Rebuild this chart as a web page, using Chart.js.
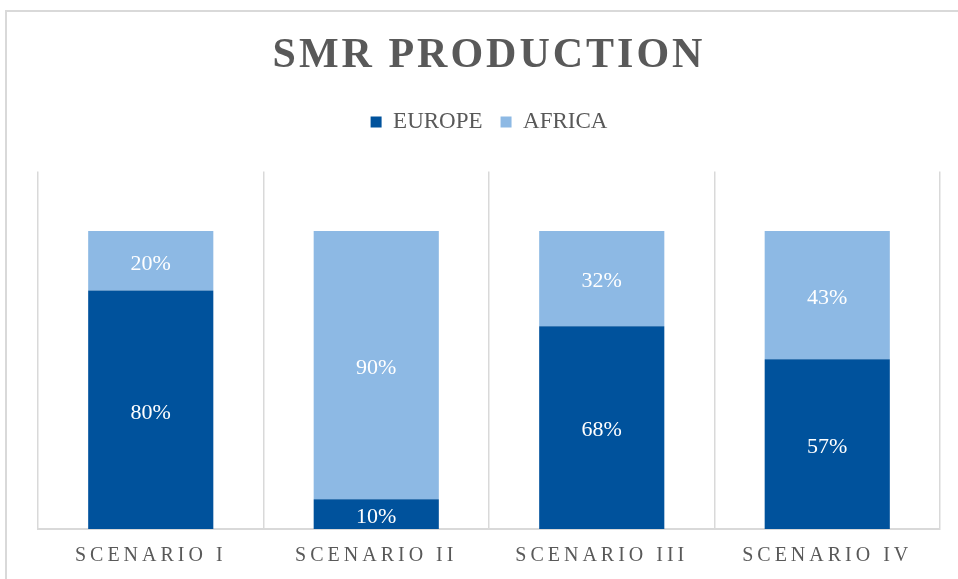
<!DOCTYPE html>
<html>
<head>
<meta charset="utf-8">
<title>SMR Production</title>
<script src="https://cdn.jsdelivr.net/npm/chart.js@4.4.1/dist/chart.umd.min.js"></script>
<style>
    body { margin: 0; background: #fff; }
    #wrap { position: relative; width: 958px; height: 579px; overflow: hidden; }
    #frame {
        position: absolute; left: 5px; top: 10px; width: 1000px; height: 1000px;
        border-left: 2px solid #d9d9d9; border-top: 2px solid #d9d9d9;
        pointer-events: none;
    }
    canvas { position: absolute; left: 0; top: 0; }
</style>
</head>
<body>
<div id="wrap">
    <div id="frame"></div>
    <canvas id="smrChart" width="958" height="579"></canvas>
</div>
<script>
const scenarios = ["SCENARIO I", "SCENARIO II", "SCENARIO III", "SCENARIO IV"];
const europe = [80, 10, 68, 57];
const africa = [20, 90, 32, 43];

const textGray = "#595959";
const serif = "'Liberation Serif', 'Times New Roman', serif";

// letter spacing for title and category labels, extra gap under the legend
const layoutTweaks = {
    id: "layoutTweaks",
    beforeLayout(chart) {
        const legend = chart.legend;
        if (legend && !legend._tweaked) {
            const fit = legend.fit;
            legend.fit = function () {
                fit.call(this);
                this.height += 28;
            };
            legend._tweaked = true;
        }
        spaced(chart.titleBlock, "3px");
        spaced(chart.scales.x, "4px");
    }
};

function spaced(box, px) {
    if (!box || box._spaced) return;
    const draw = box.draw;
    box.draw = function (area) {
        const ctx = this.ctx;
        ctx.save();
        ctx.letterSpacing = px;
        draw.call(this, area);
        ctx.restore();
    };
    box._spaced = true;
}

// percentage labels in the middle of each bar segment
const barLabels = {
    id: "barLabels",
    afterDatasetsDraw(chart) {
        const ctx = chart.ctx;
        ctx.save();
        ctx.font = "22px " + serif;
        ctx.fillStyle = "#ffffff";
        ctx.textAlign = "center";
        ctx.textBaseline = "middle";
        chart.data.datasets.forEach((ds, i) => {
            chart.getDatasetMeta(i).data.forEach((bar, j) => {
                const p = bar.getProps(["x", "y", "base"], true);
                ctx.fillText(ds.data[j] + "%", p.x, (p.y + p.base) / 2 + 3);
            });
        });
        ctx.restore();
    }
};

const ctx = document.getElementById("smrChart").getContext("2d");
new Chart(ctx, {
    type: "bar",
    data: {
        labels: scenarios,
        datasets: [
            { label: "EUROPE", data: europe, backgroundColor: "#00529C" },
            { label: "AFRICA", data: africa, backgroundColor: "#8DB9E4" }
        ]
    },
    options: {
        responsive: false,
        animation: false,
        barPercentage: 0.555,
        categoryPercentage: 1,
        layout: { padding: { left: 38, right: 18, top: 0, bottom: 0 } },
        plugins: {
            title: {
                display: true,
                text: "SMR PRODUCTION",
                color: textGray,
                font: { family: serif, size: 42, weight: "bold" },
                padding: { top: 31, bottom: 11 }
            },
            legend: {
                labels: {
                    color: textGray,
                    font: { family: serif, size: 23 },
                    boxWidth: 11,
                    boxHeight: 11,
                    padding: 18
                }
            },
            tooltip: { enabled: false }
        },
        scales: {
            x: {
                stacked: true,
                grid: { color: "#d9d9d9", lineWidth: 1.5, drawTicks: false },
                border: { color: "#d9d9d9", width: 2 },
                ticks: {
                    color: textGray,
                    font: { family: serif, size: 20 },
                    padding: 15
                },
                afterFit: (scale) => { scale.height = 50; }
            },
            y: {
                stacked: true,
                display: false,
                min: 0,
                max: 120
            }
        }
    },
    plugins: [layoutTweaks, barLabels]
});
</script>
</body>
</html>
